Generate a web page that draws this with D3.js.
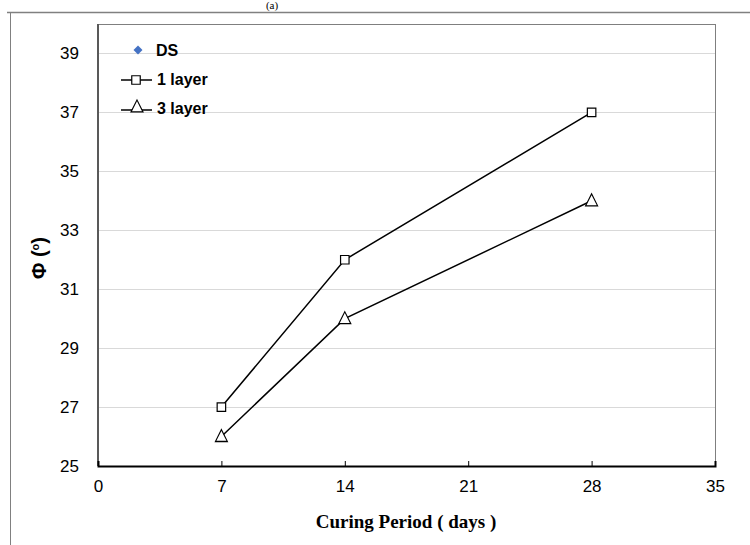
<!DOCTYPE html>
<html><head><meta charset="utf-8">
<script src="https://cdn.jsdelivr.net/npm/d3@7"></script>
<style>body{margin:0;background:#fff}</style>
</head><body>
<svg id="c" width="750" height="545"></svg>
<script>
const days = [7, 14, 28];
const layer1 = [27, 32, 37];
const layer3 = [26, 30, 34];
const xTicks = [0, 7, 14, 21, 28, 35];
const yTicks = [25, 27, 29, 31, 33, 35, 37, 39];
const legendLabels = ["DS", "1 layer", "3 layer"];

const svg = d3.select("#c");
const L = 98, R = 715, T = 24, B = 466;
const x = d3.scaleLinear().domain([0, 35]).range([L, R]);
const y = d3.scaleLinear().domain([25, 40]).range([B, T]);

// outer frame
svg.append("line").attr("x1", 7).attr("x2", 750).attr("y1", 12.5).attr("y2", 12.5).attr("stroke", "#808080").attr("stroke-width", 1.5);
svg.append("line").attr("x1", 10.5).attr("x2", 10.5).attr("y1", 12).attr("y2", 545).attr("stroke", "#808080").attr("stroke-width", 1);
svg.append("text").attr("x", 272).attr("y", 9).attr("text-anchor", "middle").attr("font-family", "Liberation Serif").attr("font-size", 11).text("(a)");

// gridlines
svg.append("g").selectAll("line").data(yTicks.slice(1)).join("line")
  .attr("x1", L).attr("x2", R).attr("y1", d => Math.round(y(d)) + 0.5).attr("y2", d => Math.round(y(d)) + 0.5)
  .attr("stroke", "#d9d9d9").attr("stroke-width", 1);

// plot border
svg.append("rect").attr("x", L + 0.5).attr("y", T + 0.5).attr("width", R - L).attr("height", B - T)
  .attr("fill", "none").attr("stroke", "#7f7f7f").attr("stroke-width", 1);
svg.append("line").attr("x1", L).attr("x2", L).attr("y1", T).attr("y2", B).attr("stroke", "#595959").attr("stroke-width", 2);

// x axis
const xa = svg.append("g").attr("transform", `translate(0,${B})`)
  .call(d3.axisBottom(x).tickValues(xTicks).tickSize(-5).tickPadding(14));
xa.select(".domain").attr("stroke", "#000").attr("stroke-width", 2);
xa.selectAll(".tick line").attr("stroke", "#000");
xa.selectAll("text").attr("font-family", "Liberation Sans").attr("font-size", 17).attr("fill", "#000");

// y axis labels
const ya = svg.append("g").attr("transform", `translate(${L},0)`)
  .call(d3.axisLeft(y).tickValues(yTicks).tickSize(0).tickPadding(19));
ya.select(".domain").remove();
ya.selectAll("text").attr("font-family", "Liberation Sans").attr("font-size", 17).attr("fill", "#000");

// axis titles
svg.append("text").attr("x", 406).attr("y", 528).attr("text-anchor", "middle")
  .attr("font-family", "Liberation Serif").attr("font-weight", "bold").attr("font-size", 19).text("Curing Period ( days )");
const yt = svg.append("text").attr("transform", "translate(46,258) rotate(-90)").attr("text-anchor", "middle")
  .attr("font-family", "Liberation Sans").attr("font-weight", "bold").attr("font-size", 20);
yt.append("tspan").text("Φ  (");
yt.append("tspan").attr("font-size", 11).attr("dy", -7).text("o");
yt.append("tspan").attr("dy", 7).text(")");

// series
const line = d3.line().x(d => x(d[0])).y(d => y(d[1]));
const s1 = days.map((d, i) => [d, layer1[i]]);
const s3 = days.map((d, i) => [d, layer3[i]]);
svg.append("path").attr("d", line(s1)).attr("fill", "none").attr("stroke", "#000").attr("stroke-width", 1.5);
svg.append("path").attr("d", line(s3)).attr("fill", "none").attr("stroke", "#000").attr("stroke-width", 1.5);

const sq = d3.symbol().type(d3.symbolSquare).size(72);
const tri = d3.symbol().type(d3.symbolTriangle).size(62);
svg.append("g").selectAll("path").data(s1).join("path").attr("d", sq)
  .attr("transform", d => `translate(${x(d[0])},${y(d[1])})`).attr("fill", "#fff").attr("stroke", "#000").attr("stroke-width", 1.2);
svg.append("g").selectAll("path").data(s3).join("path").attr("d", tri)
  .attr("transform", d => `translate(${x(d[0])},${y(d[1]) + 1}) scale(1,1.15)`).attr("fill", "#fff").attr("stroke", "#000").attr("stroke-width", 1.1);

// legend
const lg = svg.append("g").attr("font-family", "Liberation Sans").attr("font-weight", "bold").attr("font-size", 16);
lg.append("path").attr("d", d3.symbol().type(d3.symbolSquare).size(40)).attr("transform", "translate(138,50) rotate(45)").attr("fill", "#4472c4");
lg.append("text").attr("x", 156).attr("y", 56).text(legendLabels[0]);
lg.append("line").attr("x1", 121).attr("x2", 152).attr("y1", 80).attr("y2", 80).attr("stroke", "#000").attr("stroke-width", 1.5);
lg.append("path").attr("d", sq).attr("transform", "translate(136,80)").attr("fill", "#fff").attr("stroke", "#000").attr("stroke-width", 1.2);
lg.append("text").attr("x", 157).attr("y", 85).text(legendLabels[1]);
lg.append("line").attr("x1", 121).attr("x2", 152).attr("y1", 110).attr("y2", 110).attr("stroke", "#000").attr("stroke-width", 1.5);
lg.append("path").attr("d", tri).attr("transform", "translate(137,108) scale(1,1.15)").attr("fill", "#fff").attr("stroke", "#000").attr("stroke-width", 1.1);
lg.append("text").attr("x", 157).attr("y", 114).text(legendLabels[2]);
</script>
</body></html>
